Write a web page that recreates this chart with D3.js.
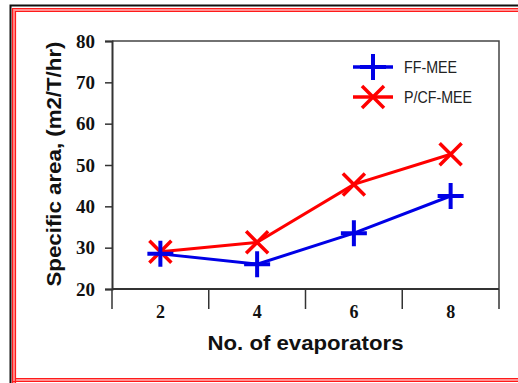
<!DOCTYPE html>
<html>
<head>
<meta charset="utf-8">
<script src="https://cdn.jsdelivr.net/npm/d3@7"></script>
<style>
  body { margin: 0; background: #fff; }
  svg { display: block; }
</style>
</head>
<body>
<script>
// chart data
var categories = ["2", "4", "6", "8"];
var yTicks = [20, 30, 40, 50, 60, 70, 80];
var ffMee = [28.5, 26, 33.5, 42.5];
var pcfMee = [29, 31.3, 45.3, 52.6];
var seriesNames = ["FF-MEE", "P/CF-MEE"];

var W = 518, H = 383;
var margin = {top: 41, right: 19, bottom: 94, left: 112};

var svg = d3.select("body").append("svg")
    .attr("width", W)
    .attr("height", H);

// outer frame: black top/left, red double line
svg.append("path")
    .attr("d", "M10.5,383 V5.5 H518")
    .attr("fill", "none")
    .attr("stroke", "#111")
    .attr("stroke-width", 2);
svg.append("path")
    .attr("d", "M14,383 V10 H518 M14,380 H518")
    .attr("fill", "none")
    .attr("stroke", "#ff9090")
    .attr("stroke-width", 4);
svg.append("path")
    .attr("d", "M12.5,383 V8.5 H518 M15.5,383 V11.5 H518 M12.5,381.5 H518 M15.5,378.5 H518")
    .attr("fill", "none")
    .attr("stroke", "#ff1a1a")
    .attr("stroke-width", 1.2);

var x = d3.scaleBand()
    .domain(categories)
    .range([margin.left, W - margin.right])
    .padding(0);

var y = d3.scaleLinear()
    .domain([20, 80])
    .range([H - margin.bottom, margin.top]);

// plot frame (top and right)
svg.append("path")
    .attr("d", "M" + x.range()[0] + "," + y(80) + " H" + x.range()[1] + " V" + y(20))
    .attr("fill", "none")
    .attr("stroke", "#444")
    .attr("stroke-width", 1.5);

// y axis
var yAxis = svg.append("g")
    .attr("transform", "translate(" + margin.left + ",0)")
    .call(d3.axisLeft(y).tickValues(yTicks).tickSize(7).tickPadding(10));
yAxis.select(".domain").attr("stroke", "#333").attr("stroke-width", 2);
yAxis.selectAll(".tick line").attr("stroke", "#333").attr("stroke-width", 1.5);
yAxis.selectAll(".tick text")
    .attr("fill", "#111")
    .style("font-family", "'Liberation Serif', serif")
    .style("font-weight", "bold")
    .style("font-size", "19px");

// x axis: ticks between categories, hanging down
var xAxis = svg.append("g")
    .attr("transform", "translate(0," + y(20) + ")");
xAxis.append("line")
    .attr("x1", x.range()[0]).attr("x2", x.range()[1])
    .attr("stroke", "#333").attr("stroke-width", 2);
var edges = categories.map(function(c) { return x(c); }).concat([x.range()[1]]);
xAxis.selectAll(".xtick")
    .data(edges)
    .enter().append("line")
    .attr("class", "xtick")
    .attr("x1", function(d) { return d; })
    .attr("x2", function(d) { return d; })
    .attr("y1", 0).attr("y2", 20)
    .attr("stroke", "#333").attr("stroke-width", 1.5);
xAxis.selectAll(".xlabel")
    .data(categories)
    .enter().append("text")
    .attr("class", "xlabel")
    .attr("x", function(d) { return x(d) + x.bandwidth() / 2; })
    .attr("y", 29)
    .attr("text-anchor", "middle")
    .attr("fill", "#111")
    .style("font-family", "'Liberation Serif', serif")
    .style("font-weight", "bold")
    .style("font-size", "18px")
    .text(function(d) { return d; });

// axis titles
svg.append("text")
    .attr("x", (x.range()[0] + x.range()[1]) / 2)
    .attr("y", 350)
    .attr("text-anchor", "middle")
    .attr("textLength", 196)
    .attr("lengthAdjust", "spacingAndGlyphs")
    .attr("fill", "#111")
    .style("font-family", "'Liberation Sans', Arial, sans-serif")
    .style("font-weight", "bold")
    .style("font-size", "21px")
    .text("No. of evaporators");

svg.append("text")
    .attr("transform", "translate(61,164) rotate(-90)")
    .attr("text-anchor", "middle")
    .attr("textLength", 245)
    .attr("lengthAdjust", "spacingAndGlyphs")
    .attr("fill", "#111")
    .style("font-family", "'Liberation Sans', Arial, sans-serif")
    .style("font-weight", "bold")
    .style("font-size", "21px")
    .text("Specific area, (m2/T/hr)");

// markers
var plusPath = "M-13,0 H13 M0,-13 V13";
var crossPath = "M-11,-11 L11,11 M-11,11 L11,-11";
var series = [
    {name: seriesNames[0], values: ffMee, color: "#0000e6", marker: plusPath, mw: 4},
    {name: seriesNames[1], values: pcfMee, color: "#ff0000", marker: crossPath, mw: 3.5}
];

var line = d3.line()
    .x(function(d, i) { return x(categories[i]) + x.bandwidth() / 2; })
    .y(function(d) { return y(d); });

// draw red first so the blue markers sit on top
series.slice().reverse().forEach(function(s) {
    svg.append("path")
        .datum(s.values)
        .attr("d", line)
        .attr("fill", "none")
        .attr("stroke", s.color)
        .attr("stroke-width", 3);
    svg.selectAll(null)
        .data(s.values)
        .enter().append("path")
        .attr("transform", function(d, i) {
            return "translate(" + (x(categories[i]) + x.bandwidth() / 2) + "," + y(d) + ")";
        })
        .attr("d", s.marker)
        .attr("fill", "none")
        .attr("stroke", s.color)
        .attr("stroke-width", s.mw);
});

// legend
var legend = svg.append("g");
series.forEach(function(s, i) {
    var ly = 67 + i * 30;
    legend.append("line")
        .attr("x1", 353).attr("x2", 393)
        .attr("y1", ly).attr("y2", ly)
        .attr("stroke", s.color).attr("stroke-width", 3.5);
    legend.append("path")
        .attr("transform", "translate(373," + ly + ")")
        .attr("d", s.marker)
        .attr("fill", "none")
        .attr("stroke", s.color)
        .attr("stroke-width", s.mw);
    legend.append("text")
        .attr("x", 404)
        .attr("y", ly + 6)
        .attr("textLength", i === 0 ? 53 : 68)
        .attr("lengthAdjust", "spacingAndGlyphs")
        .attr("fill", "#222")
        .style("font-family", "'Liberation Sans', Arial, sans-serif")
        .style("font-size", "16px")
        .text(s.name);
});
</script>
</body>
</html>
